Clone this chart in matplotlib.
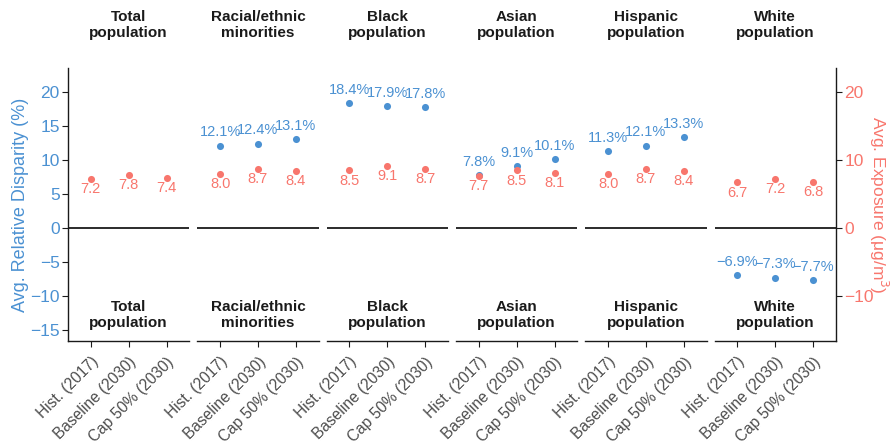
import matplotlib
matplotlib.use("Agg")
import matplotlib.pyplot as plt
from matplotlib.transforms import ScaledTranslation

plt.rcParams['font.family'] = ['Liberation Sans', 'DejaVu Sans']

groups = ["Total\npopulation", "Racial/ethnic\nminorities", "Black\npopulation",
          "Asian\npopulation", "Hispanic\npopulation", "White\npopulation"]
scenarios = ["Hist. (2017)", "Baseline (2030)", "Cap 50% (2030)"]
disparity = [None, [12.1, 12.4, 13.1], [18.4, 17.9, 17.8], [7.8, 9.1, 10.1],
             [11.3, 12.1, 13.3], [-6.9, -7.3, -7.7]]
exposure = [[7.2, 7.8, 7.4], [8.0, 8.7, 8.4], [8.5, 9.1, 8.7], [7.7, 8.5, 8.1],
            [8.0, 8.7, 8.4], [6.7, 7.2, 6.8]]

BLUE = '#4B91D2'
RED = '#F8766D'
DARK = '#1a1a1a'

W, H = 896, 444
fig = plt.figure(figsize=(W / 100, H / 100), dpi=100)
left_px, right_px, top_px, bot_px = 68, 836, 68, 341
gap = 8
n = len(groups)
pw = (right_px - left_px - gap * (n - 1)) / n
ylim = (-16.6, 23.5)

def fmt(v):
    s = f"{abs(v):.1f}"
    return ("\u2212" if v < 0 else "") + s

shift = ScaledTranslation(0.03, 0, fig.dpi_scale_trans)

axes = []
for i in range(n):
    x0 = left_px + i * (pw + gap)
    ax = fig.add_axes([x0 / W, 1 - bot_px / H, pw / W, (bot_px - top_px) / H])
    axes.append(ax)
    xs = [1, 2, 3]
    ax.set_xlim(0.4, 3.6)
    ax.set_ylim(*ylim)
    ax.axhline(0, color=DARK, lw=1.3, zorder=1)
    if disparity[i] is not None:
        ax.scatter(xs, disparity[i], s=26, color=BLUE, zorder=3, linewidths=0)
        for x, v in zip(xs, disparity[i]):
            ax.annotate(fmt(v) + "%", (x, v), xytext=(0, 9.5), textcoords='offset points',
                        ha='center', va='center', color=BLUE, fontsize=10.5)
    ax.scatter(xs, exposure[i], s=26, color=RED, zorder=4, linewidths=0)
    for x, v in zip(xs, exposure[i]):
        ax.annotate(fmt(v), (x, v), xytext=(0, -7.5), textcoords='offset points',
                    ha='center', va='center', color=RED, fontsize=10.5)
    ax.text(2, -12.8, groups[i], ha='center', va='center', fontsize=11,
            fontweight='bold', color=DARK, linespacing=1.15)
    fig.text((x0 + pw / 2) / W, 1 - 25 / H, groups[i], ha='center', va='center',
             fontsize=11, fontweight='bold', color=DARK, linespacing=1.15)
    ax.set_xticks(xs)
    ax.set_xticklabels(scenarios, rotation=45, ha='right', va='top',
                       rotation_mode='anchor', fontsize=11.2, color='#4d4d4d')
    for lab in ax.get_xticklabels():
        lab.set_transform(lab.get_transform() + shift)
    ax.tick_params(axis='x', length=4, width=0.8, color=DARK, pad=5.5)
    ax.spines['top'].set_visible(False)
    ax.spines['bottom'].set_color(DARK)
    ax.spines['bottom'].set_linewidth(1.0)
    ax.patch.set_alpha(0)
    if i == 0:
        ax.spines['left'].set_color(DARK)
        ax.spines['left'].set_linewidth(1.0)
        ax.spines['right'].set_visible(False)
        ax.set_yticks([-15, -10, -5, 0, 5, 10, 15, 20])
        ax.tick_params(axis='y', length=4, width=0.8, color=DARK, labelcolor=BLUE,
                       labelsize=12.5, pad=2)
        ax.set_ylabel("Avg. Relative Disparity (%)", color=BLUE, fontsize=13, labelpad=1)
    elif i == n - 1:
        ax.spines['left'].set_visible(False)
        ax.spines['right'].set_color(DARK)
        ax.spines['right'].set_linewidth(1.0)
        ax.yaxis.tick_right()
        ax.yaxis.set_label_position('right')
        ax.set_yticks([-10, 0, 10, 20])
        ax.tick_params(axis='y', length=4, width=0.8, color=DARK, labelcolor=RED,
                       labelsize=12.5, pad=2)
        ax.set_ylabel("Avg. Exposure (\u03bcg/m$^3$)", color=RED, fontsize=12.5,
                      rotation=270, labelpad=12)
    else:
        ax.spines['left'].set_visible(False)
        ax.spines['right'].set_visible(False)
        ax.set_yticks([])

fig.savefig("out.png", dpi=100)
